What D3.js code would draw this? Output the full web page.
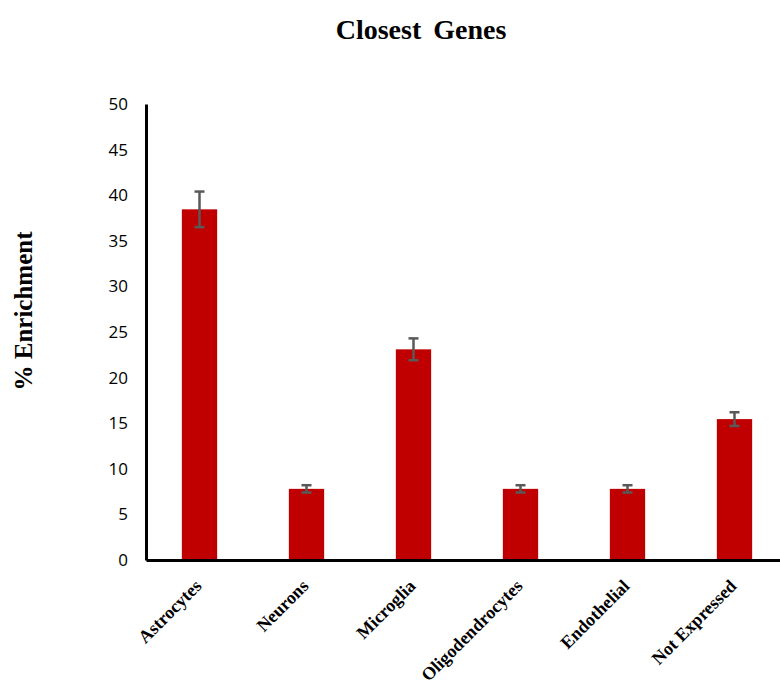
<!DOCTYPE html>
<html>
<head>
<meta charset="utf-8">
<script src="https://cdn.jsdelivr.net/npm/d3@7"></script>
<style>
  html, body { margin: 0; padding: 0; background: #fff; }
  svg { display: block; }
</style>
</head>
<body>
<svg id="chart" width="780" height="688"></svg>
<script>
// Cell-type enrichment of closest genes
const categories = ["Astrocytes", "Neurons", "Microglia", "Oligodendrocytes", "Endothelial", "Not Expressed"];
const values = [38.45, 7.8, 23.1, 7.8, 7.8, 15.45];
const errors = [1.95, 0.4, 1.2, 0.4, 0.4, 0.75];
const yTicks = [0, 5, 10, 15, 20, 25, 30, 35, 40, 45, 50];

const svg = d3.select("#chart");
const plot = { left: 146, right: 788, top: 104, bottom: 560 };

const x = d3.scaleBand().domain(categories).range([plot.left, plot.right]).paddingInner(0.67).paddingOuter(0.335);
const y = d3.scaleLinear().domain([0, 50]).range([plot.bottom, plot.top]);

const serif = "'Liberation Serif', 'Times New Roman', serif";

// Title
svg.append("text")
  .attr("x", 421).attr("y", 39)
  .attr("text-anchor", "middle")
  .style("font-family", serif)
  .style("font-weight", "bold")
  .style("font-size", "28px")
  .style("word-spacing", "5px")
  .text("Closest Genes");

// Y axis title
svg.append("text")
  .attr("transform", "translate(32,311) rotate(-90)")
  .attr("text-anchor", "middle")
  .style("font-family", serif)
  .style("font-weight", "bold")
  .style("font-size", "25px")
  .text("% Enrichment");

// Bars
svg.append("g").selectAll("rect").data(categories).join("rect")
  .attr("x", d => x(d))
  .attr("width", x.bandwidth())
  .attr("y", (d, i) => y(values[i]))
  .attr("height", (d, i) => y(0) - y(values[i]))
  .attr("fill", "#c00000");

// Error bars
const eb = svg.append("g").attr("stroke", "#595959").attr("stroke-width", 2.5);
categories.forEach((c, i) => {
  const cx = x(c) + x.bandwidth() / 2;
  const hi = y(values[i] + errors[i]), lo = y(values[i] - errors[i]);
  eb.append("line").attr("x1", cx).attr("x2", cx).attr("y1", hi).attr("y2", lo);
  eb.append("line").attr("x1", cx - 5).attr("x2", cx + 5).attr("y1", hi).attr("y2", hi);
  eb.append("line").attr("x1", cx - 5).attr("x2", cx + 5).attr("y1", lo).attr("y2", lo);
});

// Y axis
const yAxis = svg.append("g")
  .attr("transform", `translate(${plot.left},0)`)
  .call(d3.axisLeft(y).tickValues(yTicks).tickSize(0).tickPadding(18));
yAxis.select(".domain").attr("stroke", "#000").attr("stroke-width", 3);
yAxis.selectAll("text")
  .style("font-family", "'Open Sans', 'Liberation Sans', sans-serif")
  .style("font-size", "17px")
  .attr("fill", "#000");

// X axis
const xAxis = svg.append("g")
  .attr("transform", `translate(0,${plot.bottom})`)
  .call(d3.axisBottom(x).tickSize(0).tickSizeOuter(0));
xAxis.select(".domain").attr("stroke", "#000").attr("stroke-width", 3);
xAxis.selectAll("text")
  .attr("text-anchor", "end")
  .attr("dy", 0)
  .attr("transform", "translate(1,25) rotate(-45)")
  .style("font-family", serif)
  .style("font-weight", "bold")
  .style("font-size", "18px")
  .attr("fill", "#000");
</script>
</body>
</html>
